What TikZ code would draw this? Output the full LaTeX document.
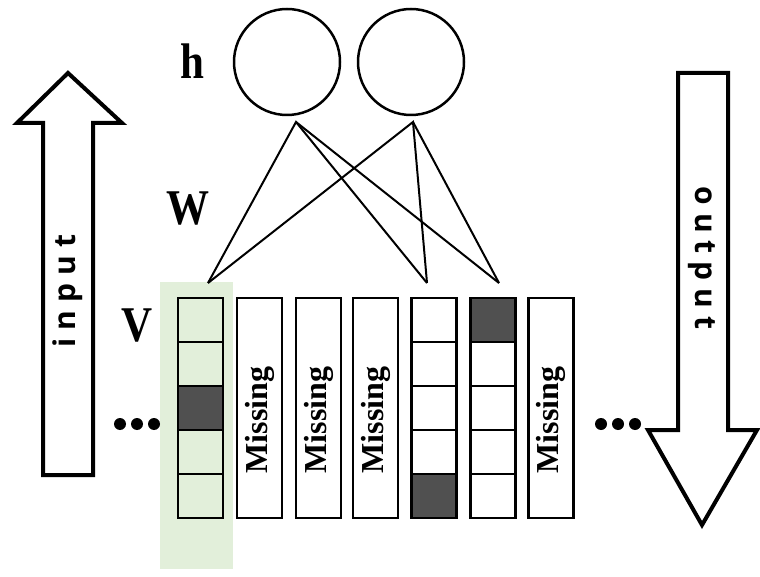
\documentclass[tikz,border=0pt]{standalone}
\usepackage{fontspec}
\setmainfont{Liberation Serif}
\newfontfamily\arrowfont{Open Sans}
\definecolor{hlgreen}{HTML}{E2EFDA}
\definecolor{darkcell}{HTML}{505050}
\begin{document}
\begin{tikzpicture}[x=1pt,y=-1pt,
  cellbox/.style={draw,line width=2.5pt,minimum width=45pt,minimum height=44pt,inner sep=0pt},
  darkbox/.style={cellbox,fill=darkcell},
  colbox/.style={draw,line width=2.5pt,fill=white,minimum width=45pt,minimum height=220pt,inner sep=0pt},
  misstext/.style={rotate=90,inner sep=0pt,font=\bfseries\fontsize{32}{32}\selectfont},
  biglabel/.style={inner sep=0pt,xscale=0.86,font=\bfseries\fontsize{50}{50}\selectfont},
  unit/.style={draw,circle,line width=2.5pt,minimum size=106pt,inner sep=0pt},
  wline/.style={line width=2pt,line join=miter},
  bigarrow/.style={draw,line width=4pt,line join=miter,fill=white},
  arrowtext/.style={inner sep=0pt,font=\arrowfont\bfseries\fontsize{30}{30}\selectfont},
  dot/.style={fill=black,circle,minimum size=12pt,inner sep=0pt}]
\useasboundingbox (0,0) rectangle (760,577);
% highlight
\fill[hlgreen] (160,282) rectangle (233,569);
% input arrow
\draw[bigarrow] (43,475) -- (43,123) -- (17,123) -- (68,73) -- (122,123) -- (93,123) -- (93,475) -- cycle;
\node[arrowtext,rotate=90] (intext) at (68,291) {i\kern8pt n\kern8pt p\kern8pt u\kern8pt t};
% output arrow
\draw[bigarrow] (678,73) -- (728,73) -- (728,430) -- (757,430) -- (702,525) -- (648,430) -- (678,430) -- cycle;
\node[arrowtext,rotate=-90] (outtext) at (702,258) {o\kern8pt u\kern8pt t\kern8pt p\kern8pt u\kern8pt t};
% labels
\node[biglabel] (lh) at (192,61) {h};
\node[biglabel] (lw) at (188,209) {W};
\node[biglabel] (lv) at (137,326) {V};
% hidden units
\node[unit] (h1) at (287,62) {};
\node[unit] (h2) at (411,62) {};
% column 1
\foreach \k in {1,2,4,5} {\node[cellbox] (c1\k) at (200.5,{298+44*(\k-0.5)}) {};}
\node[darkbox] (c13) at (200.5,408) {};
% missing columns
\foreach \n/\x in {2/259.5,3/318.5,4/375.5,7/551} {
  \node[colbox] (c\n) at (\x,408) {};
  \node[misstext] (m\n) at (\x,420) {Missing};
}
% column 5
\foreach \k in {1,2,3,4} {\node[cellbox,fill=white] (c5\k) at (434,{298+44*(\k-0.5)}) {};}
\node[darkbox] (c55) at (434,496) {};
% column 6
\node[darkbox] (c61) at (493,320) {};
\foreach \k in {2,3,4,5} {\node[cellbox,fill=white] (c6\k) at (493,{298+44*(\k-0.5)}) {};}
% weights
\coordinate (a1) at (296,122);
\coordinate (a2) at (413,122);
\coordinate (t1) at (208,283);
\coordinate (t5) at (427,283);
\coordinate (t6) at (499,283);
\draw[wline] (t1) -- (a1) -- (t5);
\draw[wline] (a1) -- (t6);
\draw[wline] (t1) -- (a2) -- (t5);
\draw[wline] (a2) -- (t6);
% dots
\foreach \i/\x in {1/120,2/137,3/154} {\node[dot] (ld\i) at (\x,424) {};}
\foreach \i/\x in {1/601,2/618,3/635} {\node[dot] (rd\i) at (\x,424) {};}
\end{tikzpicture}
\end{document}
